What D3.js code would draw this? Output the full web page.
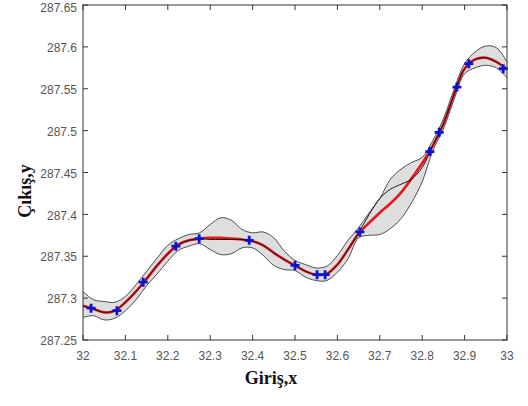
<!DOCTYPE html>
<html><head><meta charset="utf-8">
<script src="https://cdn.jsdelivr.net/npm/d3@7"></script>
<style>
html,body{margin:0;padding:0;background:#fff;}
svg{display:block;}
</style></head>
<body>
<script>
// ---- data ----
const xGrid = d3.range(41).map(i => +(32 + i * 0.025).toFixed(3));
const meanY = [287.291, 287.287, 287.283, 287.285, 287.295, 287.308, 287.323, 287.339, 287.353, 287.364, 287.369, 287.371, 287.372, 287.372, 287.371, 287.370, 287.368, 287.363, 287.354, 287.346, 287.339, 287.332, 287.328, 287.329, 287.340, 287.358, 287.377, 287.390, 287.402, 287.413, 287.426, 287.443, 287.461, 287.482, 287.508, 287.543, 287.574, 287.585, 287.587, 287.582, 287.573];
const trueY = [287.291, 287.287, 287.283, 287.285, 287.295, 287.308, 287.323, 287.339, 287.353, 287.364, 287.369, 287.371, 287.370, 287.370, 287.370, 287.370, 287.368, 287.363, 287.354, 287.346, 287.339, 287.332, 287.328, 287.329, 287.340, 287.358, 287.378, 287.400, 287.419, 287.430, 287.436, 287.442, 287.456, 287.482, 287.508, 287.543, 287.574, 287.585, 287.587, 287.582, 287.573];
const upperY = [287.308, 287.298, 287.296, 287.295, 287.302, 287.316, 287.332, 287.348, 287.363, 287.371, 287.376, 287.378, 287.388, 287.396, 287.393, 287.382, 287.378, 287.379, 287.372, 287.356, 287.345, 287.340, 287.336, 287.338, 287.351, 287.369, 287.384, 287.402, 287.419, 287.442, 287.454, 287.462, 287.468, 287.488, 287.514, 287.549, 287.580, 287.594, 287.601, 287.599, 287.582];
const lowerY = [287.277, 287.279, 287.274, 287.276, 287.285, 287.298, 287.315, 287.329, 287.344, 287.357, 287.362, 287.365, 287.358, 287.352, 287.353, 287.360, 287.360, 287.351, 287.339, 287.334, 287.333, 287.325, 287.321, 287.321, 287.331, 287.347, 287.372, 287.375, 287.376, 287.383, 287.395, 287.414, 287.439, 287.476, 287.502, 287.537, 287.568, 287.575, 287.578, 287.575, 287.563];
const obsX = [32.019, 32.080, 32.142, 32.219, 32.274, 32.392, 32.500, 32.552, 32.571, 32.653, 32.818, 32.840, 32.882, 32.910, 32.991];
const obsY = [287.288, 287.285, 287.319, 287.362, 287.371, 287.369, 287.339, 287.328, 287.328, 287.379, 287.475, 287.498, 287.552, 287.580, 287.574];
const xTicks = [32, 32.1, 32.2, 32.3, 32.4, 32.5, 32.6, 32.7, 32.8, 32.9, 33];
const yTicks = [287.25, 287.3, 287.35, 287.4, 287.45, 287.5, 287.55, 287.6, 287.65];
const xLabel = "Giriş,x";
const yLabel = "Çıkış,y";

// ---- layout ----
const W = 528, H = 406;
const L = 83, R = 507, T = 5, B = 340;
const svg = d3.select("body").append("svg").attr("width", W).attr("height", H);
const x = d3.scaleLinear().domain([32, 33]).range([L, R]);
const y = d3.scaleLinear().domain([287.25, 287.65]).range([B, T]);
const curve = d3.curveCatmullRom.alpha(0.5);

const rows = xGrid.map((xv, i) => ({x: xv, m: meanY[i], t: trueY[i], u: upperY[i], l: lowerY[i]}));

const g = svg.append("g");
g.append("path").datum(rows)
  .attr("d", d3.area().x(d => x(d.x)).y0(d => y(d.l)).y1(d => y(d.u)).curve(curve))
  .attr("fill", "#dedede").attr("stroke", "none");
g.append("path").datum(rows)
  .attr("d", d3.line().x(d => x(d.x)).y(d => y(d.u)).curve(curve))
  .attr("fill", "none").attr("stroke", "#3a3a3a").attr("stroke-width", 0.9);
g.append("path").datum(rows)
  .attr("d", d3.line().x(d => x(d.x)).y(d => y(d.l)).curve(curve))
  .attr("fill", "none").attr("stroke", "#3a3a3a").attr("stroke-width", 0.9);
g.append("path").datum(rows)
  .attr("d", d3.line().x(d => x(d.x)).y(d => y(d.m)).curve(curve))
  .attr("fill", "none").attr("stroke", "#e8141b").attr("stroke-width", 2.6);
g.append("path").datum(rows)
  .attr("d", d3.line().x(d => x(d.x)).y(d => y(d.t)).curve(curve))
  .attr("fill", "none").attr("stroke", "#1a1a1a").attr("stroke-width", 1);

// markers
const pts = obsX.map((v, i) => ({x: v, y: obsY[i]}));
const mk = g.selectAll("g.mk").data(pts).enter().append("g")
  .attr("transform", d => `translate(${x(d.x)},${y(d.y)})`);
mk.append("path").attr("d", "M-4.5,0H4.5M0,-4.5V4.5")
  .attr("stroke", "#0a14d0").attr("stroke-width", 2.8).attr("fill", "none");

// axes box
const ax = svg.append("g");
ax.append("rect").attr("x", L).attr("y", T).attr("width", R - L).attr("height", B - T)
  .attr("fill", "none").attr("stroke", "#333").attr("stroke-width", 1);

const tickLen = 5;
xTicks.forEach(v => {
  ax.append("line").attr("x1", x(v)).attr("x2", x(v)).attr("y1", B).attr("y2", B - tickLen).attr("stroke", "#333");
  ax.append("line").attr("x1", x(v)).attr("x2", x(v)).attr("y1", T).attr("y2", T + tickLen).attr("stroke", "#333");
});
yTicks.forEach(v => {
  ax.append("line").attr("x1", L).attr("x2", L + tickLen).attr("y1", y(v)).attr("y2", y(v)).attr("stroke", "#333");
  ax.append("line").attr("x1", R).attr("x2", R - tickLen).attr("y1", y(v)).attr("y2", y(v)).attr("stroke", "#333");
});
const fmt = d => String(+d.toFixed(2));
ax.selectAll("text.xt").data(xTicks).enter().append("text")
  .attr("x", d => x(d)).attr("y", 360).attr("text-anchor", "middle")
  .attr("font-family", "Liberation Sans, Arial, sans-serif").attr("font-size", 12).attr("fill", "#555")
  .text(fmt);
ax.selectAll("text.yt").data(yTicks).enter().append("text")
  .attr("x", 77).attr("y", d => Math.max(y(d) + 1, 8)).attr("dy", "0.35em").attr("text-anchor", "end")
  .attr("font-family", "Liberation Sans, Arial, sans-serif").attr("font-size", 12).attr("fill", "#555")
  .text(fmt);

svg.append("text").attr("x", (L + R) / 2 - 24).attr("y", 384).attr("text-anchor", "middle")
  .attr("font-family", "Liberation Serif, Times New Roman, serif").attr("font-weight", "bold")
  .attr("font-size", 18).attr("fill", "#111").text(xLabel);
svg.append("text").attr("transform", "translate(31,191) rotate(-90)").attr("text-anchor", "middle")
  .attr("font-family", "Liberation Serif, Times New Roman, serif").attr("font-weight", "bold")
  .attr("font-size", 18).attr("fill", "#111").text(yLabel);
</script>
</body></html>
